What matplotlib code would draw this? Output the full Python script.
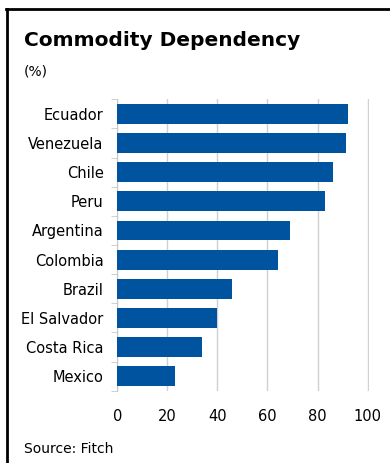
import matplotlib
matplotlib.use("Agg")
import matplotlib.pyplot as plt
from matplotlib.lines import Line2D
import numpy as np

countries = ['Ecuador', 'Venezuela', 'Chile', 'Peru', 'Argentina',
             'Colombia', 'Brazil', 'El Salvador', 'Costa Rica', 'Mexico']
dependency = [92, 91.5, 86.3, 83, 69, 64.4, 46, 40, 34, 23]
x_ticks = [0, 20, 40, 60, 80, 100]

plt.rcParams['font.family'] = ['DejaVu Sans']

fig = plt.figure(figsize=(3.9, 4.63), dpi=100)
ax = fig.add_axes([0.301, 0.156, 0.644, 0.6295])

y = np.arange(len(countries))
ax.barh(y, dependency, height=0.68, color='#00539f', zorder=3)

ax.set_ylim(len(countries) - 0.5, -0.5)
ax.set_xlim(0, 100.4)
ax.set_xticks(x_ticks)
ax.set_xticklabels([str(t) for t in x_ticks], fontsize=10.5)
ax.set_yticks(y)
ax.set_yticklabels(countries, fontsize=10.5)
ax.set_yticks(np.arange(len(countries) + 1) - 0.5, minor=True)

ax.grid(axis='x', color='#d0d0d0', linewidth=1, zorder=0)
for s in ['top', 'right', 'bottom']:
    ax.spines[s].set_visible(False)
ax.spines['left'].set_color('#c8c8c8')
ax.tick_params(axis='y', which='major', length=0, pad=10)
ax.tick_params(axis='y', which='minor', length=4, color='#c8c8c8')
ax.tick_params(axis='x', length=0, pad=13)

fig.text(0.062, 0.9, 'Commodity Dependency', fontsize=14.5,
         fontweight='bold')
fig.text(0.062, 0.838, '(%)', fontsize=10)
fig.text(0.062, 0.022, 'Source: Fitch', fontsize=10)

# frame at top and left
fig.add_artist(Line2D([0.016, 1.0], [0.9795, 0.9795], color='black',
                      linewidth=2, transform=fig.transFigure))
fig.add_artist(Line2D([0.018, 0.018], [0.0, 0.9795], color='black',
                      linewidth=2, transform=fig.transFigure))

fig.savefig('out.png', dpi=100, facecolor='white')
